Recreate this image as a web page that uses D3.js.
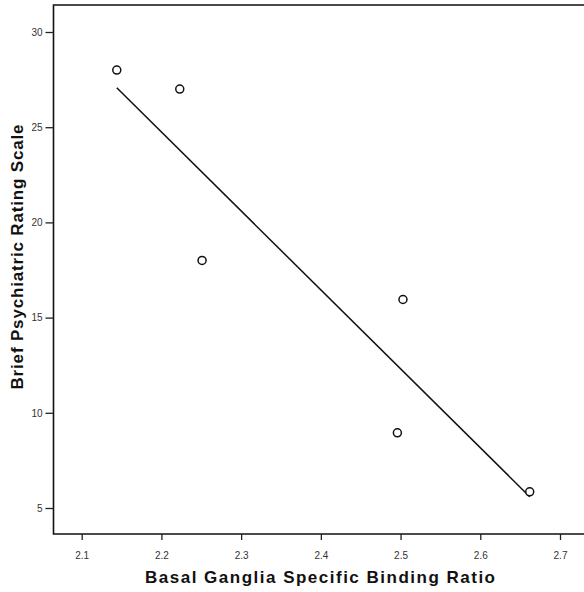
<!DOCTYPE html>
<html>
<head>
<meta charset="utf-8">
<script src="https://cdn.jsdelivr.net/npm/d3@7"></script>
<style>
  body { margin: 0; background: #fff; }
  svg { display: block; font-family: "Liberation Sans", Arial, sans-serif; }
</style>
</head>
<body>
<div id="chart"></div>
<script>
// binding ratio vs BPRS score
const bindingRatio = [2.144, 2.223, 2.251, 2.503, 2.496, 2.662];
const bprsScore = [28, 27, 18, 15.95, 8.95, 5.85];
const xTicks = [2.1, 2.2, 2.3, 2.4, 2.5, 2.6, 2.7];
const yTicks = [5, 10, 15, 20, 25, 30];

const width = 584, height = 592;
const plotLeft = 53.5, plotTop = 5, plotRight = 584, plotBottom = 534;

const svg = d3.select('#chart')
    .append('svg')
    .attr('width', width)
    .attr('height', height);

const x = d3.scaleLinear().domain([2.1, 2.7]).range([81.7, 560]);
const y = d3.scaleLinear().domain([5, 30]).range([508, 32]);

// frame (right edge falls outside the picture)
svg.append('path')
    .attr('d', `M${plotRight + 5},${plotTop}H${plotLeft}V${plotBottom}H${plotRight + 5}`)
    .attr('fill', 'none')
    .attr('stroke', '#111')
    .attr('stroke-width', 1.6);

const xAxis = svg.append('g')
    .attr('transform', `translate(0,${plotBottom})`)
    .call(d3.axisBottom(x).tickValues(xTicks).tickSize(6).tickPadding(12)
        .tickFormat(d3.format('.1f')));
xAxis.select('.domain').remove();
xAxis.selectAll('line').attr('stroke', '#222').attr('stroke-width', 1.3);
xAxis.selectAll('text').attr('fill', '#333').style('font-size', '10px')
    .attr('font-family', '"Liberation Sans", Arial, sans-serif');

const yAxis = svg.append('g')
    .attr('transform', `translate(${plotLeft},0)`)
    .call(d3.axisLeft(y).tickValues(yTicks).tickSize(8).tickPadding(3));
yAxis.select('.domain').remove();
yAxis.selectAll('line').attr('stroke', '#222').attr('stroke-width', 1.3);
yAxis.selectAll('text').attr('fill', '#333').style('font-size', '10px')
    .attr('font-family', '"Liberation Sans", Arial, sans-serif');

// least squares line over the range of the data
const mx = d3.mean(bindingRatio), my = d3.mean(bprsScore);
let sxy = 0, sxx = 0;
bindingRatio.forEach((v, i) => {
    sxy += (v - mx) * (bprsScore[i] - my);
    sxx += (v - mx) * (v - mx);
});
const slope = sxy / sxx, icpt = my - slope * mx;
const [x0, x1] = d3.extent(bindingRatio);

svg.append('line')
    .attr('x1', x(x0)).attr('y1', y(icpt + slope * x0))
    .attr('x2', x(x1)).attr('y2', y(icpt + slope * x1))
    .attr('stroke', '#111')
    .attr('stroke-width', 1.5);

svg.selectAll('.pt')
    .data(bindingRatio.map((v, i) => [v, bprsScore[i]]))
    .enter()
    .append('circle')
    .attr('class', 'pt')
    .attr('cx', d => x(d[0]))
    .attr('cy', d => y(d[1]))
    .attr('r', 4)
    .attr('fill', '#fff')
    .attr('stroke', '#111')
    .attr('stroke-width', 1.5);

svg.append('text')
    .attr('x', 320)
    .attr('y', 583)
    .attr('text-anchor', 'middle')
    .attr('textLength', 350)
    .style('font-size', '17px')
    .style('font-weight', 'bold')
    .attr('fill', '#111')
    .text('Basal Ganglia Specific Binding Ratio');

svg.append('text')
    .attr('transform', 'translate(23,257) rotate(-90)')
    .attr('text-anchor', 'middle')
    .attr('textLength', 265)
    .style('font-size', '17px')
    .style('font-weight', 'bold')
    .attr('fill', '#111')
    .text('Brief Psychiatric Rating Scale');
</script>
</body>
</html>
